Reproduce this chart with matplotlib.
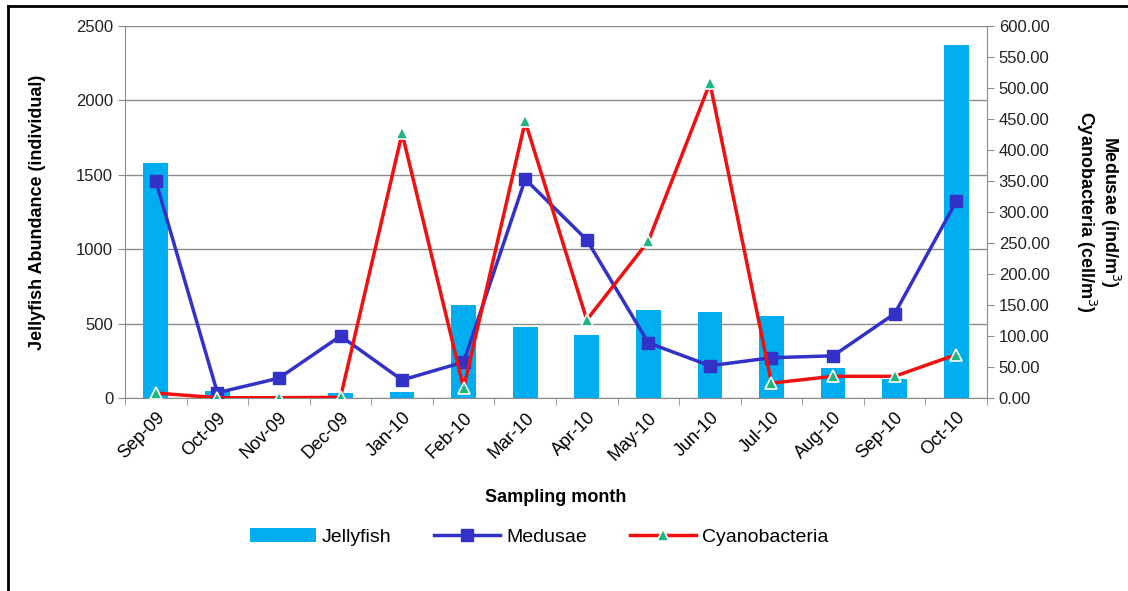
import matplotlib
matplotlib.use("Agg")
import matplotlib.pyplot as plt
import numpy as np
from matplotlib.lines import Line2D
from matplotlib.ticker import FuncFormatter

plt.rcParams["font.family"] = ["Liberation Sans", "DejaVu Sans"]

# COLORS
BAR_COLOR = "#00aeef"
MEDUSAE_COLOR = "#3232c8"
CYANO_COLOR = "#f01010"
TRI_COLOR = "#1fb57f"
GRID_COLOR = "#8c8c8c"

# ==========================
# DATA
# ==========================
months = ["Sep-09", "Oct-09", "Nov-09", "Dec-09", "Jan-10", "Feb-10", "Mar-10",
          "Apr-10", "May-10", "Jun-10", "Jul-10", "Aug-10", "Sep-10", "Oct-10"]
jellyfish = [1580, 50, 10, 35, 40, 625, 480, 423, 591, 576, 551, 200, 128, 2372]
medusae = [350, 8.5, 32, 100, 29, 58, 353, 255, 89, 52, 65, 68, 136, 317]
cyanobacteria = [8, 0.5, 0.5, 1, 427, 16, 446, 126, 253, 508, 24, 35, 35, 70]

x = np.arange(len(months))

fig = plt.figure(figsize=(11.28, 5.91), dpi=100)
ax1 = fig.add_axes([125 / 1128, 1 - 398 / 591, (987 - 125) / 1128, (398 - 26) / 591])

# Outer frame (only top and left visible in the reference)
fig.add_artist(Line2D([8 / 1128, 1.0], [1 - 6 / 591, 1 - 6 / 591],
                      transform=fig.transFigure, color="black", linewidth=2))
fig.add_artist(Line2D([8 / 1128, 8 / 1128], [0.0, 1 - 6 / 591],
                      transform=fig.transFigure, color="black", linewidth=2))

# --------------------------
# JELLYFISH (BARS)
# --------------------------
ax1.bar(x, jellyfish, width=0.4, color=BAR_COLOR, label="Jellyfish", zorder=2)
ax1.set_xlim(-0.5, len(months) - 0.5)
ax1.set_ylim(0, 2500)
ax1.set_yticks(np.arange(0, 2501, 500))
ax1.yaxis.grid(True, color=GRID_COLOR, linewidth=1)
ax1.set_axisbelow(True)

ax1.set_xticks(x)
ax1.set_xticklabels(months, rotation=45, ha="right", rotation_mode="anchor")
ax1.set_xticks(np.arange(-0.5, len(months), 1), minor=True)
ax1.tick_params(axis="x", which="major", length=0, labelsize=13, pad=8)
ax1.tick_params(axis="x", which="minor", length=5, color=GRID_COLOR)
ax1.tick_params(axis="y", labelsize=12, length=5, color=GRID_COLOR, labelcolor="#222222")

for side in ["top", "right"]:
    ax1.spines[side].set_visible(False)
for side in ["left", "bottom"]:
    ax1.spines[side].set_color(GRID_COLOR)

ax1.set_ylabel("Jellyfish Abundance (individual)", fontsize=13, fontweight="bold", labelpad=22)
ax1.set_xlabel("Sampling month", fontsize=13, fontweight="bold", labelpad=18)

# --------------------------
# MEDUSAE + CYANOBACTERIA (RIGHT AXIS)
# --------------------------
ax2 = ax1.twinx()
ax2.plot(x, medusae, color=MEDUSAE_COLOR, linewidth=2.5, marker="s",
         markersize=9, markerfacecolor=MEDUSAE_COLOR, markeredgecolor=MEDUSAE_COLOR,
         label="Medusae", zorder=3)
ax2.plot(x, cyanobacteria, color=CYANO_COLOR, linewidth=2.5, marker="^",
         markersize=8, markerfacecolor=TRI_COLOR, markeredgecolor="white",
         markeredgewidth=1.2, label="Cyanobacteria", zorder=4)
ax2.set_ylim(0, 600)
ax2.set_yticks(np.arange(0, 601, 50))
ax2.yaxis.set_major_formatter(FuncFormatter(lambda v, pos: f"{v:.2f}"))
ax2.tick_params(axis="y", labelsize=12, length=5, color=GRID_COLOR, labelcolor="#222222")
for side in ["top", "left", "bottom"]:
    ax2.spines[side].set_visible(False)
ax2.spines["right"].set_color(GRID_COLOR)

ax2.set_ylabel("Medusae (ind/m$^3$)\nCyanobacteria (cell/m$^3$)", fontsize=13,
               fontweight="bold", rotation=270, labelpad=52, linespacing=1.0)

# --------------------------
# LEGEND
# --------------------------
h1, l1 = ax1.get_legend_handles_labels()
h2, l2 = ax2.get_legend_handles_labels()
fig.legend(h1 + h2, l1 + l2, loc="center", bbox_to_anchor=(539 / 1128, 1 - 537 / 591),
           ncol=3, frameon=False, fontsize=14, handlelength=3.4, columnspacing=2.2,
           handletextpad=0.3)

fig.savefig("out.png", dpi=100)
plt.close(fig)
